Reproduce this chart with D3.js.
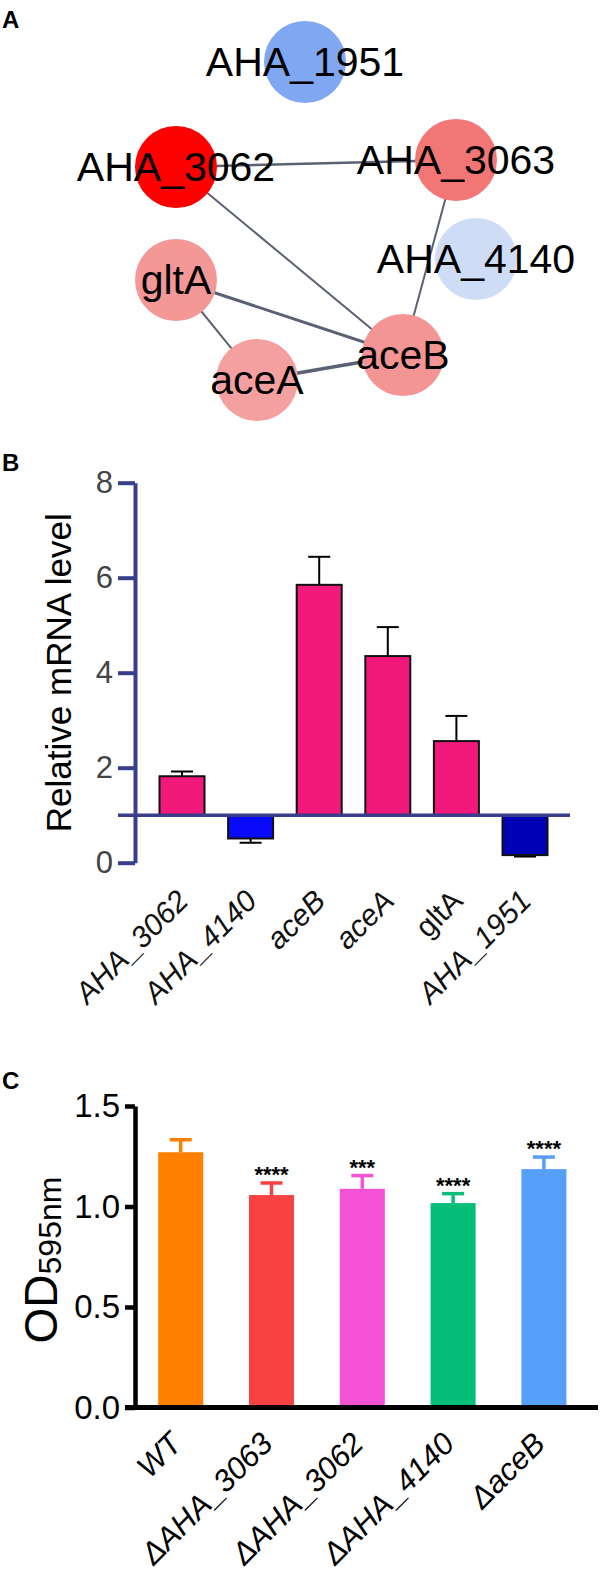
<!DOCTYPE html>
<html><head><meta charset="utf-8">
<script src="https://cdn.jsdelivr.net/npm/d3@7"></script>
<style>
body{margin:0;background:#fff}
svg{display:block}
text{font-family:"Liberation Sans",Arial,Helvetica,sans-serif}
</style>
</head><body>
<svg id="chart" width="602" height="1581"></svg>
<script>
// ---------- Panel A: interaction network ----------
const nodeNames  = ["AHA_1951","AHA_3062","AHA_3063","AHA_4140","gltA","aceA","aceB"];
const nodeX      = [3.05, 1.76, 4.56, 4.76, 1.76, 2.57, 4.03];   // layout units
const nodeY      = [0.62, 1.67, 1.60, 2.59, 2.80, 3.80, 3.55];   // layout units
const nodeColors = ["#80a7f1","#fd0000","#f37676","#cedcf6","#f39797","#f5a0a0","#f39595"];
const edgeSource = ["AHA_3062","AHA_3062","AHA_3063","gltA","gltA","aceA"];
const edgeTarget = ["AHA_3063","aceB","aceB","aceB","aceA","aceB"];
const edgeWeight = [2.6, 2.0, 2.0, 3.0, 2.0, 3.4];

// ---------- Panel B: relative mRNA level ----------
const genesB   = ["AHA_3062","AHA_4140","aceB","aceA","gltA","AHA_1951"];
const valuesB  = [1.82, 0.51, 5.85, 4.35, 2.56, 0.16];
const errorsB  = [1.92, 0.42, 6.44, 4.96, 3.09, 0.13];
const colorsB  = ["#f2197d","#0a0afa","#f2197d","#f2197d","#f2197d","#0000b4"];
const italicB  = [true, true, true, true, false, true];
const ticksB   = [0, 2, 4, 6, 8];
const baseB    = 1;

// ---------- Panel C: OD595nm ----------
const strainsC = ["WT","ΔAHA_3063","ΔAHA_3062","ΔAHA_4140","ΔaceB"];
const valuesC  = [1.270, 1.057, 1.088, 1.017, 1.186];
const errorsC  = [1.332, 1.117, 1.154, 1.064, 1.246];
const colorsC  = ["#ff8000","#f74242","#f552d6","#06be78","#569ffa"];
const starsC   = ["", "****", "***", "****", "****"];
const ticksC   = [0, 0.5, 1.0, 1.5];

const svg = d3.select("#chart");
const FONT = '"Liberation Sans",Arial,sans-serif';

// panel letters
[["A",28],["B",471],["C",1089]].forEach(([t,y])=>{
  svg.append("text").attr("x",2).attr("y",y).attr("font-size",24)
     .attr("font-weight","bold").text(t);
});

// ===== Panel A =====
const xA = d3.scaleLinear().domain([0,6]).range([0,600]);
const yA = d3.scaleLinear().domain([0,4]).range([0,400]);
const nodes = nodeNames.map((n,i)=>({name:n,x:nodeX[i],y:nodeY[i],color:nodeColors[i]}));
const byName = Object.fromEntries(nodes.map(d=>[d.name,d]));
const edges = edgeSource.map((s,i)=>({s:byName[s],t:byName[edgeTarget[i]],w:edgeWeight[i]}));
const gA = svg.append("g");
gA.selectAll("line.edge").data(edges).join("line")
  .attr("x1",d=>xA(d.s.x)).attr("y1",d=>yA(d.s.y))
  .attr("x2",d=>xA(d.t.x)).attr("y2",d=>yA(d.t.y))
  .attr("stroke","#5a6172").attr("stroke-width",d=>d.w);
gA.selectAll("circle").data(nodes).join("circle")
  .attr("cx",d=>xA(d.x)).attr("cy",d=>yA(d.y)).attr("r",41)
  .attr("fill",d=>d.color);
gA.selectAll("text.lab").data(nodes).join("text")
  .attr("x",d=>xA(d.x)).attr("y",d=>yA(d.y)).attr("dy","0.35em")
  .attr("text-anchor","middle").attr("font-size",41).attr("fill","#000")
  .text(d=>d.name);

// ===== Panel B =====
const navy = "#393d8b";
const yB = d3.scaleLinear().domain([0,8]).range([862.7,482.7]);
const xB = d3.scaleBand().domain(genesB).range([147.7,559.3]).paddingInner(0.344).paddingOuter(0.172);
const gB = svg.append("g");
const axB = gB.append("g").attr("transform","translate(135,0)")
  .call(d3.axisLeft(yB).tickValues(ticksB).tickSize(17).tickSizeOuter(0).tickPadding(5).tickFormat(d3.format("d")));
axB.select(".domain").attr("stroke",navy).attr("stroke-width",4);
axB.selectAll(".tick line").attr("stroke",navy).attr("stroke-width",4);
axB.selectAll(".tick text").attr("font-size",31).attr("fill","#444").attr("font-family",FONT);

const dataB = genesB.map((g,i)=>({g,v:valuesB[i],e:errorsB[i],c:colorsB[i],it:italicB[i]}));
// error bars
dataB.forEach(d=>{
  const cx = xB(d.g)+xB.bandwidth()/2;
  gB.append("line").attr("x1",cx).attr("x2",cx).attr("y1",yB(d.v)).attr("y2",yB(d.e))
    .attr("stroke","#000").attr("stroke-width",2);
  gB.append("line").attr("x1",cx-11).attr("x2",cx+11).attr("y1",yB(d.e)).attr("y2",yB(d.e))
    .attr("stroke","#000").attr("stroke-width",2);
});
gB.selectAll("rect").data(dataB).join("rect")
  .attr("x",d=>xB(d.g)).attr("width",xB.bandwidth())
  .attr("y",d=>yB(Math.max(d.v,baseB))).attr("height",d=>Math.abs(yB(d.v)-yB(baseB)))
  .attr("fill",d=>d.c).attr("stroke","#111").attr("stroke-width",2);
// baseline at 1
gB.append("line").attr("x1",118).attr("x2",570).attr("y1",yB(baseB)).attr("y2",yB(baseB))
  .attr("stroke",navy).attr("stroke-width",3.5);
// axis title
gB.append("text").attr("transform",`translate(71,${(yB(0)+yB(8))/2}) rotate(-90)`)
  .attr("text-anchor","middle").attr("font-size",35).attr("fill","#000")
  .text("Relative mRNA level");
// category labels
gB.selectAll("text.cat").data(dataB).join("text")
  .attr("transform",d=>`translate(${xB(d.g)+xB.bandwidth()/2+8},${yB(0)+40}) rotate(-45)`)
  .attr("text-anchor","end").attr("font-size",30).attr("fill","#111")
  .attr("font-style",d=>d.it?"italic":"normal")
  .text(d=>d.g);

// ===== Panel C =====
const yC = d3.scaleLinear().domain([0,1.5]).range([1407.5,1106]);
const xC = d3.scaleBand().domain(strainsC).range([135.3,589.3]).paddingInner(0.504).paddingOuter(0.252);
const gC = svg.append("g");
const dataC = strainsC.map((s,i)=>({s,v:valuesC[i],e:errorsC[i],c:colorsC[i],st:starsC[i]}));
dataC.forEach(d=>{
  const cx = xC(d.s)+xC.bandwidth()/2;
  gC.append("line").attr("x1",cx).attr("x2",cx).attr("y1",yC(d.v)).attr("y2",yC(d.e))
    .attr("stroke",d.c).attr("stroke-width",3.5);
  gC.append("line").attr("x1",cx-11).attr("x2",cx+11).attr("y1",yC(d.e)).attr("y2",yC(d.e))
    .attr("stroke",d.c).attr("stroke-width",3.5);
  if(d.st) gC.append("text").attr("x",cx).attr("y",yC(d.e)-1).attr("text-anchor","middle")
    .attr("font-size",22).attr("font-weight","bold").text(d.st);
});
gC.selectAll("rect").data(dataC).join("rect")
  .attr("x",d=>xC(d.s)).attr("width",xC.bandwidth())
  .attr("y",d=>yC(d.v)).attr("height",d=>yC(0)-yC(d.v))
  .attr("fill",d=>d.c);
const axC = gC.append("g").attr("transform","translate(135,0)")
  .call(d3.axisLeft(yC).tickValues(ticksC).tickSize(10).tickSizeOuter(0).tickPadding(5).tickFormat(d3.format(".1f")));
axC.select(".domain").attr("stroke","#000").attr("stroke-width",4.5);
axC.selectAll(".tick line").attr("stroke","#000").attr("stroke-width",4.5);
axC.selectAll(".tick text").attr("font-size",33).attr("fill","#000").attr("font-family",FONT);
gC.append("line").attr("x1",125).attr("x2",598).attr("y1",yC(0)).attr("y2",yC(0))
  .attr("stroke","#000").attr("stroke-width",5);
// y title
const tC = gC.append("text").attr("transform",`translate(57,1260) rotate(-90)`)
  .attr("text-anchor","middle").attr("fill","#000");
tC.append("tspan").attr("font-size",46).text("OD");
tC.append("tspan").attr("font-size",32).attr("dy",4).text("595nm");
// labels
gC.selectAll("text.cat").data(dataC).join("text")
  .attr("transform",d=>`translate(${xC(d.s)+xC.bandwidth()/2+3},${yC(0)+38}) rotate(-45)`)
  .attr("text-anchor","end").attr("font-size",31).attr("font-style","italic").attr("fill","#000")
  .text(d=>d.s);
</script>
</body></html>
